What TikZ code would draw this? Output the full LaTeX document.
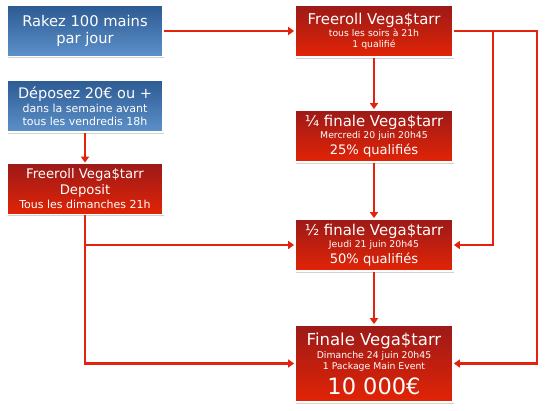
\documentclass[tikz,border=0pt]{standalone}
\usepackage{fontspec}
\setmainfont{DejaVu Sans}
\usetikzlibrary{arrows.meta,shadows}
\definecolor{lred}{HTML}{E2230E}
\definecolor{rtop}{HTML}{9C1A18}
\definecolor{rbot}{HTML}{E22406}
\definecolor{btop}{HTML}{2D5B93}
\definecolor{bbot}{HTML}{5D90C9}
\tikzset{
  box/.style={rectangle, draw=white, line width=1.8pt, text=white, align=center,
    inner sep=0pt, minimum width=156pt,
    execute at begin node={\lineskiplimit=-16000pt\relax},
    drop shadow={opacity=0.35, shadow xshift=1pt, shadow yshift=-1.5pt}},
  bluebox/.style={box, top color=btop, bottom color=bbot},
  redbox/.style={box, top color=rtop, bottom color=rbot},
  conn/.style={draw=lred, line width=2.8pt, -{Triangle[length=6pt,width=8pt]}}
}
\newcommand{\fs}[1]{\fontsize{#1}{\the\baselineskip}\selectfont}
\begin{document}
\begin{tikzpicture}[x=1pt,y=1pt]
\useasboundingbox[fill=white] (0,0) rectangle (560,-410);
\node[bluebox, minimum height=51pt, font=\fontsize{14.7}{17.5}\selectfont] (rakez) at (85,-31)
  {\fs{14.7}Rakez 100 mains\\\fs{14.7}par jour};
\node[bluebox, minimum height=52pt, font=\fontsize{11}{13}\selectfont] (depose) at (85,-106)
  {\fs{14.5}Déposez 20€ ou +\\[1pt]\fs{11}dans la semaine avant\\\fs{11}tous les vendredis 18h};
\node[redbox, minimum height=51pt, font=\fontsize{11}{14}\selectfont] (deposit) at (85,-189)
  {\fs{13.2}Freeroll Vega\$tarr\\[2pt]\fs{13.2}Deposit\\\fs{11}Tous les dimanches 21h};
\node[redbox, minimum width=158pt, minimum height=52pt, font=\fontsize{9.3}{11}\selectfont] (free) at (374,-31)
  {\fs{14.9}Freeroll Vega\$tarr\\[1pt]\fs{9.3}tous les soirs à 21h\\\fs{9.3}1 qualifié};
\node[redbox, minimum width=158pt, minimum height=52pt, font=\fontsize{9.3}{12}\selectfont] (quart) at (374,-136)
  {\fs{14.9}¼ finale Vega\$tarr\\\fs{9.3}Mercredi 20 juin 20h45\\[4pt]\fs{13.1}25\% qualifiés};
\node[redbox, minimum width=158pt, minimum height=52pt, font=\fontsize{9.3}{12}\selectfont] (demi) at (374,-245)
  {\fs{14.9}½ finale Vega\$tarr\\\fs{9.3}Jeudi 21 juin 20h45\\[4pt]\fs{13.1}50\% qualifiés};
\node[redbox, minimum width=158pt, minimum height=77pt, font=\fontsize{9.3}{11}\selectfont] (finale) at (374,-363.5)
  {\fs{16.5}Finale Vega\$tarr\\[2pt]\fs{9.3}Dimanche 24 juin 20h45\\\fs{9.3}1 Package Main Event\\[14pt]\fs{22.5}10 000€};
\coordinate (r1) at (537,-31);
\coordinate (r2) at (493,-31);
\coordinate (l1) at (84,-245);
\draw[conn] (rakez.east) -- (free.west);
\draw[conn] (depose) -- (deposit);
\draw[conn] (free) -- (quart);
\draw[conn] (quart) -- (demi);
\draw[conn] (demi) -- (finale);
\draw[conn] (deposit.south) |- (finale.west);
\draw[conn] (l1) -- (demi.west);
\draw[conn] (free.east) -- (r1) |- (finale.east);
\draw[conn] (r2) |- (demi.east);
\end{tikzpicture}
\end{document}
